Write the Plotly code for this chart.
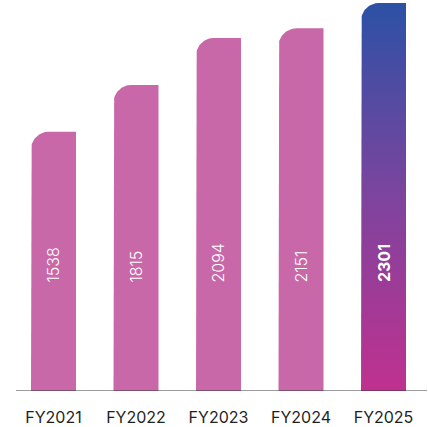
import numpy as np
import plotly.graph_objects as go

# Data
years = ["FY2021", "FY2022", "FY2023", "FY2024", "FY2025"]
values = [1538, 1815, 2094, 2151, 2301]

PINK = "#C868A8"
GRAD = [[0.0, "#C0318F"], [0.5, "#7D449E"], [1.0, "#2C51A5"]]
FONT = "Inter"

W, H = 428, 427
M_L, M_R, M_T, M_B = 16, 1, 0, 34
x_range = [-0.4545, 4.527]
y_top = 2301 * 393 / 390
y_range = [0, y_top]

px_per_x = (W - M_L - M_R) / (x_range[1] - x_range[0])
px_per_y = (H - M_T - M_B) / (y_range[1] - y_range[0])

bar_w = 45 / px_per_x
rx = 18 / px_per_x
ry = 18 / px_per_y


def bar_outline(xc, v):
    """Bar with a rounded top-left corner only."""
    x0, x1 = xc - bar_w / 2, xc + bar_w / 2
    t = np.linspace(np.pi, np.pi / 2, 24)
    ax = (x0 + rx) + rx * np.cos(t)
    ay = (v - ry) + ry * np.sin(t)
    xs = [x0, x0] + list(ax) + [x1, x1, x0]
    ys = [0, v - ry] + list(ay) + [v, 0, 0]
    return xs, ys


fig = go.Figure()
for i, (yr, v) in enumerate(zip(years, values)):
    xs, ys = bar_outline(i, v)
    last = i == len(values) - 1
    kw = dict(fillgradient=dict(type="vertical", colorscale=GRAD)) if last else dict(fillcolor=PINK)
    fig.add_trace(go.Scatter(
        x=xs, y=ys, mode="lines", fill="toself", line=dict(width=0),
        hoverinfo="skip", showlegend=False, name=yr, **kw,
    ))
    fig.add_annotation(
        x=i, y=(393 - 286) / px_per_y, xref="x", yref="y",
        text=f"<b>{v}</b>" if last else str(v), showarrow=False,
        textangle=-90, xanchor="center", yanchor="bottom",
        font=dict(family=FONT, size=16, color="white",
                  weight=700 if last else 300),
    )

fig.add_shape(type="line", xref="paper", yref="y", x0=0, x1=1, y0=0, y1=0,
              line=dict(color="#3a3a3a", width=1.2))

fig.update_layout(
    width=W, height=H,
    margin=dict(l=M_L, r=M_R, t=M_T, b=M_B),
    paper_bgcolor="white", plot_bgcolor="white",
    xaxis=dict(range=x_range, tickvals=list(range(len(years))), ticktext=years,
               showgrid=False, zeroline=False, showline=False, ticks="",
               ticklabelstandoff=15,
               tickfont=dict(family=FONT, size=16, color="#1f1f1f")),
    yaxis=dict(range=y_range, visible=False, showgrid=False, zeroline=False),
)

fig.write_html("out.html")
